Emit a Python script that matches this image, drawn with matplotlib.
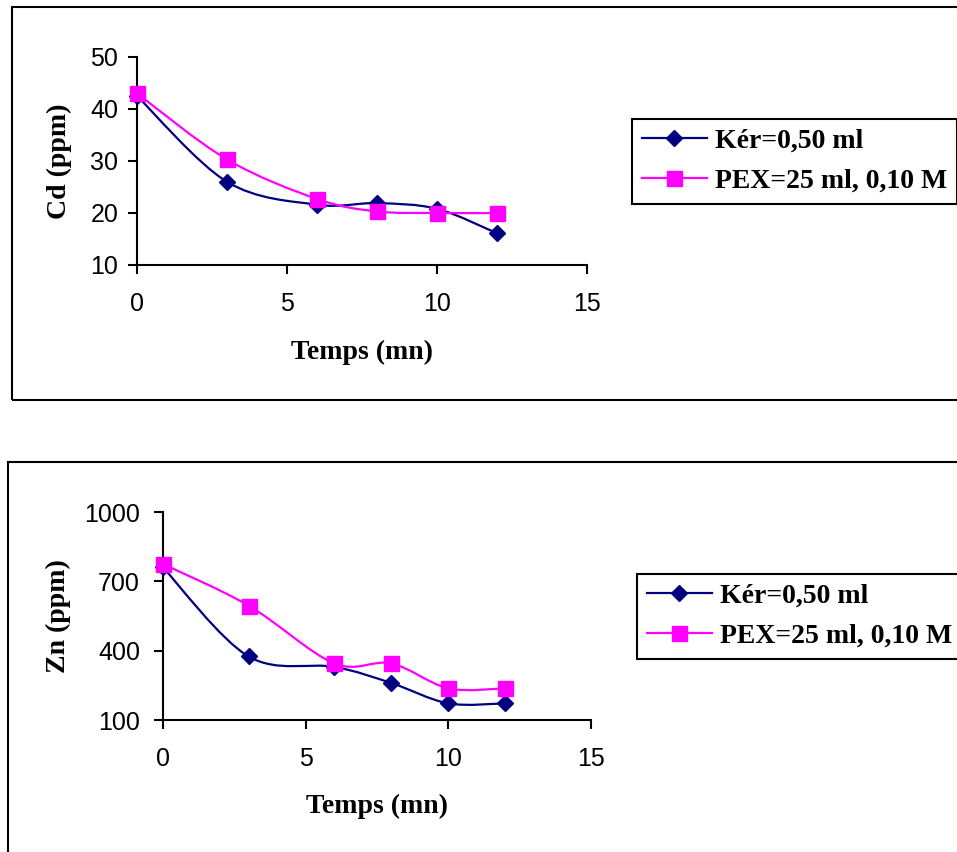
import numpy as np
import matplotlib
matplotlib.use("Agg")
import matplotlib.pyplot as plt
from matplotlib.path import Path
from matplotlib.patches import PathPatch, Rectangle
from matplotlib.lines import Line2D
from matplotlib.font_manager import FontProperties

# Sampling times (minutes)
time_mn = [0, 3, 6, 8, 10, 12]

# Cadmium concentration (ppm)
cd_ker = [42.5, 26.0, 21.6, 21.9, 20.8, 16.1]
cd_pex = [43.0, 30.3, 22.7, 20.3, 20.0, 20.0]

# Zinc concentration (ppm)
zn_ker = [760, 375, 330, 260, 172, 172]
zn_pex = [775, 595, 345, 345, 237, 237]

label_ker = "Kér=0,50 ml"
label_pex = "PEX=25 ml, 0,10 M"
x_ticks = [0, 5, 10, 15]
cd_ticks = [10, 20, 30, 40, 50]
zn_ticks = [100, 400, 700, 1000]

NAVY = "#000080"
MAGENTA = "#FF00FF"

W, H = 957, 852
fig = plt.figure(figsize=(W / 100, H / 100), dpi=100)
fig.patch.set_facecolor("white")

tick_font = FontProperties(family=["Liberation Sans", "DejaVu Sans"], size=18)
title_font = FontProperties(family=["Liberation Serif", "DejaVu Serif"], weight="bold", size=20)
legend_font = FontProperties(family=["Liberation Serif", "DejaVu Serif"], weight="bold", size=20)

DIAMOND_MS = 8.2
SQUARE_MS = 10.8
LINE_W = 1.6


def fx(px):
    return px / W


def fy(py):
    return 1 - py / H


def smooth_path(x, y):
    """Smoothed line through the points (Catmull-Rom as cubic Beziers)."""
    pts = np.column_stack([x, y]).astype(float)
    n = len(pts)
    verts = [pts[0]]
    codes = [Path.MOVETO]
    for i in range(n - 1):
        p0 = pts[i - 1] if i > 0 else pts[i]
        p1 = pts[i]
        p2 = pts[i + 1]
        p3 = pts[i + 2] if i + 2 < n else pts[i + 1]
        c1 = p1 + (p2 - p0) / 6.0
        c2 = p2 - (p3 - p1) / 6.0
        verts += [c1, c2, p2]
        codes += [Path.CURVE4] * 3
    return Path(verts, codes)


def panel(rect, y_ker, y_pex, ylim, yticks, ylabel, ylabel_x, xlabel_y,
          legend_xy, ypad):
    ax = fig.add_axes(rect)
    ax.set_xlim(0, 15)
    ax.set_ylim(*ylim)
    ax.patch.set_alpha(0)
    for side in ("top", "right"):
        ax.spines[side].set_visible(False)
    for side in ("left", "bottom"):
        ax.spines[side].set_linewidth(1.5)
        ax.spines[side].set_color("black")
    ax.set_xticks(x_ticks)
    ax.set_yticks(yticks)
    ax.tick_params(axis="both", direction="out", length=6.5, width=1.5, color="black")
    ax.tick_params(axis="x", pad=13)
    ax.tick_params(axis="y", pad=ypad)
    for lab in ax.get_xticklabels() + ax.get_yticklabels():
        lab.set_fontproperties(tick_font)

    for ys, col in ((y_ker, NAVY), (y_pex, MAGENTA)):
        ax.add_patch(PathPatch(smooth_path(time_mn, ys), fill=False,
                               edgecolor=col, lw=LINE_W, clip_on=False))
    ax.plot(time_mn, y_ker, linestyle="none", marker="D", ms=DIAMOND_MS,
            color=NAVY, clip_on=False, zorder=3)
    ax.plot(time_mn, y_pex, linestyle="none", marker="s", ms=SQUARE_MS,
            color=MAGENTA, clip_on=False, zorder=4)

    ax.set_xlabel("Temps (mn)", fontproperties=title_font)
    ax.set_ylabel(ylabel, fontproperties=title_font)
    ax.xaxis.label.set_verticalalignment("center")
    ax.yaxis.label.set_verticalalignment("center")
    ax.xaxis.set_label_coords(0.5, xlabel_y)
    ax.yaxis.set_label_coords(ylabel_x, 0.5)

    handles = [
        Line2D([], [], color=NAVY, lw=LINE_W, marker="D", ms=DIAMOND_MS),
        Line2D([], [], color=MAGENTA, lw=LINE_W, marker="s", ms=SQUARE_MS),
    ]
    leg = ax.legend(handles, [label_ker, label_pex], loc="upper left",
                    bbox_to_anchor=legend_xy, bbox_transform=fig.transFigure,
                    prop=legend_font, frameon=True, fancybox=False,
                    borderaxespad=0, borderpad=0.35, handlelength=2.35,
                    handletextpad=0.3, labelspacing=0.52)
    fr = leg.get_frame()
    fr.set_edgecolor("black")
    fr.set_linewidth(1.5)
    fr.set_alpha(1)
    return ax


# Outer frames around each chart
fig.patches.append(Rectangle((fx(12), fy(400)), 1.2, fy(7) - fy(400),
                             transform=fig.transFigure, fill=False,
                             edgecolor="black", lw=1.5))
fig.patches.append(Rectangle((fx(8), -0.2), 1.2, fy(462) + 0.2,
                             transform=fig.transFigure, fill=False,
                             edgecolor="black", lw=1.5))

panel([fx(137), fy(265), fx(587) - fx(137), fy(57) - fy(265)],
      cd_ker, cd_pex, (10, 50), cd_ticks, "Cd (ppm)",
      ylabel_x=(59 - 137) / 450, xlabel_y=(265 - 352) / 208,
      legend_xy=(fx(632), fy(119)), ypad=7)

panel([fx(163), fy(720), fx(591) - fx(163), fy(512) - fy(720)],
      zn_ker, zn_pex, (100, 1000), zn_ticks, "Zn (ppm)",
      ylabel_x=(58 - 163) / 428, xlabel_y=(720 - 806) / 208,
      legend_xy=(fx(637), fy(574)), ypad=10)

fig.savefig("out.png", dpi=100)
